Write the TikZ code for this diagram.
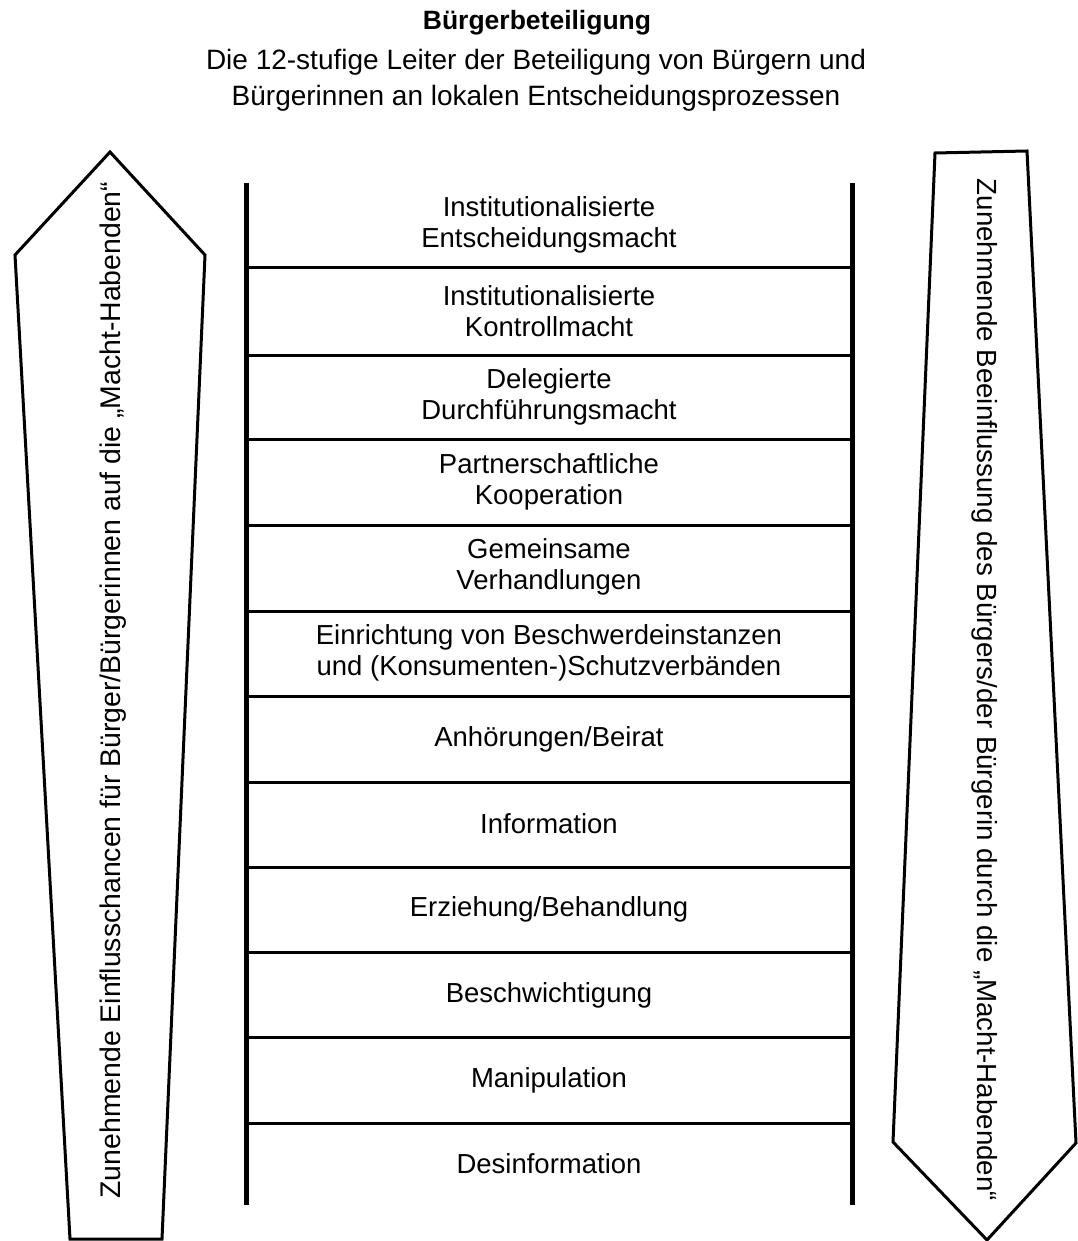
\documentclass[tikz,border=0pt]{standalone}
\usepackage{fontspec}
\setmainfont{Liberation Sans}
\begin{document}
\begin{tikzpicture}[x=1pt,y=-1pt,
  lbl/.style={align=center, font=\fontsize{27.5}{31}\selectfont, inner sep=0pt},
  sidetxt/.style={inner sep=0pt},
  rail/.style={line width=5pt},
  rung/.style={line width=3pt},
  arrowshape/.style={line width=3pt, line join=miter}]
\useasboundingbox (0,0) rectangle (1077,1241);
% title
\node[font=\bfseries\fontsize{26.5}{30}\selectfont, inner sep=0pt] (title) at (537,23) {Bürgerbeteiligung};
\node[align=center, font=\fontsize{28}{36}\selectfont, inner sep=0pt] (sub) at (536,80)
  {Die 12-stufige Leiter der Beteiligung von Bürgern und\\Bürgerinnen an lokalen Entscheidungsprozessen};
% side arrows
\draw[arrowshape] (110,152) -- (205,255) -- (162,1239) -- (70,1239) -- (15,255) -- cycle;
\draw[arrowshape] (935,153) -- (1027,151) -- (1076,1143) -- (987,1240) -- (893,1142) -- cycle;
\node[sidetxt, font=\fontsize{28.4}{32}\selectfont, rotate=90] (ltxt) at (113,690) {Zunehmende Einflusschancen für Bürger/Bürgerinnen auf die „Macht-Habenden“};
\node[sidetxt, font=\fontsize{27.7}{32}\selectfont, rotate=-90] (rtxt) at (985,690) {Zunehmende Beeinflussung des Bürgers/der Bürgerin durch die „Macht-Habenden“};
% ladder
\coordinate (lt) at (246,183); \coordinate (lb) at (246,1205);
\coordinate (rt) at (852,183); \coordinate (rb) at (852,1205);
\draw[rail] (lt) -- (lb);
\draw[rail] (rt) -- (rb);
\foreach \i/\y in {1/267,2/355,3/439,4/525,5/611,6/696,7/782,8/867,9/952,10/1037,11/1123}{
  \coordinate (ra\i) at (246,\y); \coordinate (rbb\i) at (852,\y);
  \draw[rung] (ra\i) -- (rbb\i);
}
\node[lbl] (c1) at (549,225) {Institutionalisierte\\Entscheidungsmacht};
\node[lbl] (c2) at (549,311) {Institutionalisierte\\Kontrollmacht};
\node[lbl] (c3) at (549,397) {Delegierte\\Durchführungsmacht};
\node[lbl] (c4) at (549,482) {Partnerschaftliche\\Kooperation};
\node[lbl] (c5) at (549,567) {Gemeinsame\\Verhandlungen};
\node[lbl] (c6) at (549,653) {Einrichtung von Beschwerdeinstanzen\\und (Konsumenten-)Schutzverbänden};
\node[lbl] (c7) at (549,739) {Anhörungen/Beirat};
\node[lbl] (c8) at (549,824) {Information};
\node[lbl] (c9) at (549,909) {Erziehung/Behandlung};
\node[lbl] (c10) at (549,995) {Beschwichtigung};
\node[lbl] (c11) at (549,1080) {Manipulation};
\node[lbl] (c12) at (549,1164) {Desinformation};
\end{tikzpicture}
\end{document}
